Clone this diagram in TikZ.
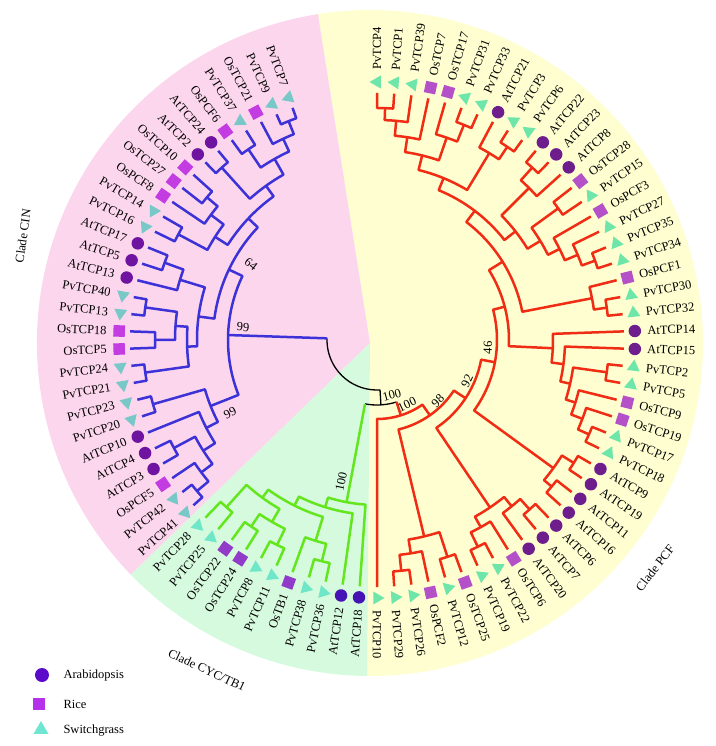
\documentclass[tikz,border=0pt]{standalone}
\usepackage{fontspec}
\setmainfont{Liberation Serif}
\usepackage{xcolor}
\usepackage{tikz}
\usetikzlibrary{shapes.geometric}
\definecolor{cinbg}{RGB}{252,214,237}
\definecolor{pcfbg}{RGB}{254,254,208}
\definecolor{cycbg}{RGB}{214,250,222}
\definecolor{cinline}{RGB}{60,50,215}
\definecolor{pcfline}{RGB}{240,45,20}
\definecolor{cycline}{RGB}{100,230,30}
\definecolor{aracol}{RGB}{90,10,200}
\definecolor{riccol}{RGB}{180,50,235}
\definecolor{swicol}{RGB}{110,230,210}

% node at radius #1, children at angle #2 (radius #3) and #4 (radius #5)
\newcommand{\clade}[5]{\draw (#2:#3) -- (#2:#1) arc[start angle=#2, end angle=#4, radius=#1] -- (#4:#5);}

\begin{document}
\begin{tikzpicture}[x=1pt, y=1pt, font=\fontsize{12.5}{14}\selectfont, line join=round,
  ara/.style={circle, fill=aracol, inner sep=0pt, minimum size=12.5pt},
  ric/.style={rectangle, fill=riccol, inner sep=0pt, minimum size=11.5pt},
  swi/.style={regular polygon, regular polygon sides=3, fill=swicol, inner sep=0pt, minimum size=15pt},
  boot/.style={inner sep=0pt}]
  \useasboundingbox (-377,-406) rectangle (338,340);

  % Sektory
  \fill[pcfbg] (-7,-3) -- ++(-90.5:333) arc[start angle=-90.5, end angle=99, radius=333] -- cycle;
  \fill[cinbg] (-7,-3) -- ++(99:333) arc[start angle=99, end angle=224.1, radius=333] -- cycle;
  \fill[cycbg] (-7,-3) -- ++(224.1:333) arc[start angle=224.1, end angle=269.5, radius=333] -- cycle;

  % Koren
  \draw[line width=1.3pt] (178.09:50) arc[start angle=178.09, end angle=273.46, radius=50] -- (273.46:65);
  \draw[line width=1.3pt] (-100.625:65) arc[start angle=-100.625, end angle=-72.46, radius=65];

  % Clade PCF
  \begin{scope}[color=pcfline, line width=2.5pt]
    \draw (-72.46:65) -- (-72.46:79);
    \clade{232}{90}{247}{86}{247}
    \clade{220}{88}{232}{82}{247}
    \clade{205}{85}{220}{78}{247}
    \clade{232}{70}{247}{66}{247}
    \clade{214}{74}{247}{68}{232}
    \clade{190}{81.5}{205}{71}{214}
    \clade{233}{58}{247}{54}{247}
    \clade{218}{62}{247}{56}{233}
    \clade{175}{76.25}{190}{59}{218}
    \clade{232}{50}{247}{46}{247}
    \clade{215}{48}{232}{42}{247}
    \clade{224}{38}{247}{34}{247}
    \clade{232}{22}{247}{18}{247}
    \clade{218}{26}{247}{20}{232}
    \clade{204}{30}{247}{23}{218}
    \clade{191}{36}{224}{26.5}{204}
    \clade{176}{45}{215}{31.25}{191}
    \clade{162}{67.625}{175}{38.125}{176}
    \clade{232}{10}{247}{6}{247}
    \clade{219}{14}{247}{8}{232}
    \clade{148}{52.875}{162}{11}{219}
    \clade{232}{-6}{247}{-10}{247}
    \clade{232}{-22}{247}{-26}{247}
    \clade{220}{-18}{247}{-24}{232}
    \clade{208}{-14}{247}{-21}{220}
    \clade{198}{-8}{232}{-17.5}{208}
    \clade{188}{-2}{247}{-12.75}{198}
    \clade{176}{2}{247}{-7.375}{188}
    \clade{132}{31.9375}{148}{-2.6875}{176}
    \clade{232}{-30}{247}{-34}{247}
    \clade{228}{-38}{247}{-42}{247}
    \clade{218}{-32}{232}{-40}{228}
    \clade{120}{-36}{218}{14.625}{132}
    \clade{228}{-46}{247}{-50}{247}
    \clade{214}{-48}{228}{-54}{247}
    \clade{230}{-62}{247}{-66}{247}
    \clade{214}{-58}{247}{-64}{230}
    \clade{202}{-51}{214}{-61}{214}
    \clade{106}{-56}{202}{-10.6875}{120}
    \clade{228}{-70}{247}{-74}{247}
    \clade{232}{-82}{247}{-86}{247}
    \clade{216}{-78}{247}{-84}{232}
    \clade{202}{-72}{228}{-81}{216}
    \clade{92}{-76.5}{202}{-33.34}{106}
    \clade{79}{-90}{247}{-54.92}{92}
  \end{scope}

  % Clade CYC/TB1
  \begin{scope}[color=cycline, line width=2.5pt]
    \draw (-100.625:65) -- (-100.625:165);
    \clade{228}{-102}{247}{-106}{247}
    \clade{210}{-104}{228}{-110}{247}
    \clade{228}{-114}{247}{-118}{247}
    \clade{225}{-122}{247}{-126}{247}
    \clade{210}{-116}{228}{-124}{225}
    \clade{225}{-130}{247}{-134}{247}
    \clade{195}{-120}{210}{-132}{225}
    \clade{185}{-107}{210}{-126}{195}
    \clade{175}{-98}{247}{-116.5}{185}
    \clade{165}{-94}{247}{-107.25}{175}
  \end{scope}

  % Clade CIN
  \begin{scope}[color=cinline, line width=2.5pt]
    \draw (178.09:50) -- (178.09:149);
    \clade{235}{222}{247}{218}{247}
    \clade{220}{220}{235}{214}{247}
    \clade{230}{210}{247}{206}{247}
    \clade{206}{217}{220}{208}{230}
    \clade{192}{202}{247}{212.5}{206}
    \clade{233}{198}{247}{194}{247}
    \clade{179}{196}{233}{207.25}{192}
    \clade{234}{190}{247}{186}{247}
    \clade{222}{182}{247}{178}{247}
    \clade{234}{174}{247}{170}{247}
    \clade{202}{180}{222}{172}{234}
    \clade{190}{188}{234}{176}{202}
    \clade{226}{162}{247}{158}{247}
    \clade{206}{166}{247}{160}{226}
    \clade{180}{182}{190}{163}{206}
    \clade{225}{154}{247}{150}{247}
    \clade{222}{142}{247}{138}{247}
    \clade{208}{146}{247}{140}{222}
    \clade{192}{152}{225}{143}{208}
    \clade{232}{134}{247}{130}{247}
    \clade{230}{126}{247}{122}{247}
    \clade{236}{114}{247}{110}{247}
    \clade{222}{118}{247}{112}{236}
    \clade{208}{124}{230}{115}{222}
    \clade{190}{132}{232}{119.5}{208}
    \clade{177}{147.5}{192}{125.75}{190}
    \clade{164}{172.5}{180}{136.625}{177}
    \clade{149}{154.5625}{164}{201.625}{179}
  \end{scope}

  % Bootstrap
  \node[boot, rotate=15] (b0) at (-75:57) {100};
  \node[boot, rotate=25] (b1) at (-65:71) {100};
  \node[boot, rotate=45] (b2) at (-45:86) {98};
  \node[boot, rotate=65] (b3) at (-24.5:99) {92};
  \node[boot, rotate=88] (b4) at (-4:111) {46};
  \node[boot, rotate=-38] (b5) at (148.9:147) {64};
  \node[boot, rotate=-3] (b6) at (-134,13) {99};
  \node[boot, rotate=27] (b7) at (206.4:164) {99};
  \node[boot, rotate=78] (b8) at (255.8:146) {100};

  % Listy PCF
  \begin{scope}
    \colorlet{aracol}{rgb,255:red,110;green,30;blue,140}
    \colorlet{riccol}{rgb,255:red,180;green,80;blue,200}
    \colorlet{swicol}{rgb,255:red,110;green,230;blue,170}
    \foreach \kind/\lab [count=\n from 1] in {swi/PvTCP4, swi/PvTCP1, swi/PvTCP39, ric/OsTCP7, ric/OsTCP17,
      swi/PvTCP31, swi/PvTCP33, ara/AtTCP21, swi/PvTCP3, swi/PvTCP6, ara/AtTCP22, ara/AtTCP23, ara/AtTCP8,
      ric/OsTCP28, swi/PvTCP15, ric/OsPCF3, swi/PvTCP27, swi/PvTCP35, swi/PvTCP34, ric/OsPCF1, swi/PvTCP30,
      swi/PvTCP32, ara/AtTCP14, ara/AtTCP15, swi/PvTCP2, swi/PvTCP5, ric/OsTCP9, ric/OsTCP19, swi/PvTCP17,
      swi/PvTCP18, ara/AtTCP9, ara/AtTCP19, ara/AtTCP11, ara/AtTCP16, ara/AtTCP6, ara/AtTCP7, ara/AtTCP20,
      ric/OsTCP6, swi/PvTCP22, swi/PvTCP19, ric/OsTCP25, swi/PvTCP12, ric/OsPCF2, swi/PvTCP26, swi/PvTCP29,
      swi/PvTCP10}{
      \pgfmathsetmacro{\ang}{94-4*\n}
      \node[\kind, rotate=\ang] (m\n) at (\ang:258) {};
      \node[anchor=west, rotate=\ang] (t\n) at (\ang:267) {\lab};
    }
  \end{scope}

  % Listy CYC/TB1
  \begin{scope}
    \colorlet{aracol}{rgb,255:red,70;green,20;blue,180}
    \colorlet{riccol}{rgb,255:red,145;green,60;blue,200}
    \colorlet{swicol}{rgb,255:red,110;green,230;blue,200}
    \foreach \kind/\lab [count=\n from 47] in {ara/AtTCP18, ara/AtTCP12, swi/PvTCP36, swi/PvTCP38, ric/OsTB1,
      swi/PvTCP11, swi/PvTCP8, ric/OsTCP24, ric/OsTCP22, swi/PvTCP25, swi/PvTCP28}{
      \pgfmathsetmacro{\ang}{94-4*\n}
      \pgfmathsetmacro{\flip}{\ang+180}
      \node[\kind, rotate=\ang] (m\n) at (\ang:258) {};
      \node[anchor=east, rotate=\flip] (t\n) at (\ang:267) {\lab};
    }
  \end{scope}

  % Listy CIN
  \begin{scope}
    \colorlet{aracol}{rgb,255:red,110;green,20;blue,160}
    \colorlet{riccol}{rgb,255:red,195;green,60;blue,225}
    \colorlet{swicol}{rgb,255:red,120;green,200;blue,200}
    \foreach \kind/\lab [count=\n from 58] in {swi/PvTCP41, swi/PvTCP42, ric/OsPCF5, ara/AtTCP3, ara/AtTCP4,
      ara/AtTCP10, swi/PvTCP20, swi/PvTCP23, swi/PvTCP21, swi/PvTCP24, ric/OsTCP5, ric/OsTCP18, swi/PvTCP13,
      swi/PvTCP40, ara/AtTCP13, ara/AtTCP5, ara/AtTCP17, swi/PvTCP16, swi/PvTCP14, ric/OsPCF8, ric/OsTCP27,
      ric/OsTCP10, ara/AtTCP2, ara/AtTCP24, ric/OsPCF6, swi/PvTCP37, ric/OsTCP21, swi/PvTCP9, swi/PvTCP7}{
      \pgfmathsetmacro{\ang}{94-4*\n}
      \pgfmathsetmacro{\flip}{\ang+180}
      \node[\kind, rotate=\ang] (m\n) at (\ang:258) {};
      \node[anchor=east, rotate=\flip] (t\n) at (\ang:267) {\lab};
    }
  \end{scope}

  % Popisy kladu
  \node[rotate=82] (cladecin) at (-354,104) {Clade CIN};
  \node[rotate=-25] (cladecyc) at (-170,-330) {Clade CYC/TB1};
  \node[rotate=52] (cladepcf) at (278,-228) {Clade PCF};

  % Legenda
  \node[ara, minimum size=14pt] (kara) at (-335,-335) {};
  \node[ric, minimum size=12.5pt] (kric) at (-338,-364) {};
  \node[swi, minimum size=17pt, yshift=1.5pt] (kswi) at (-336,-391) {};
  \node[anchor=west] (lara) at (-317,-335) {Arabidopsis};
  \node[anchor=west] (lric) at (-317,-364) {Rice};
  \node[anchor=west] (lswi) at (-317,-391) {Switchgrass};
\end{tikzpicture}
\end{document}
